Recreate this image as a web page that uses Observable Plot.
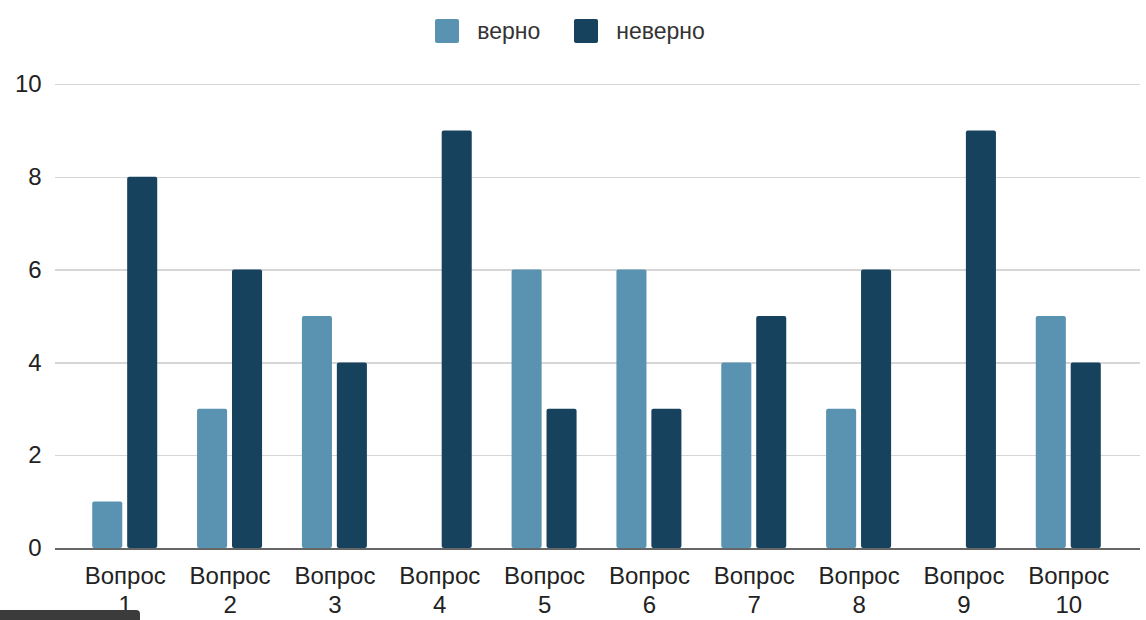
<!DOCTYPE html>
<html><head><meta charset="utf-8">
<script src="https://cdn.jsdelivr.net/npm/d3@7"></script>
<script src="https://cdn.jsdelivr.net/npm/@observablehq/plot@0.6"></script>
<style>
html,body{margin:0;padding:0;background:#fff;font-family:"Liberation Sans",Arial,sans-serif;overflow:hidden;}
#legend{height:62px;display:flex;justify-content:center;align-items:center;font-size:23px;color:#333;padding-right:6px;}
.item{display:flex;align-items:center;margin:0 17px;}
.sw{width:24px;height:24px;border-radius:2px;margin-right:18px;}
#chart svg{display:block;}
#overlay{position:absolute;left:0;top:610px;width:140px;height:10px;background:#3b3b3b;border-top-right-radius:4px;}
</style></head><body>
<div id="legend"></div><div id="chart"></div><div id="overlay"></div>
<script>
const questions = ["Вопрос 1","Вопрос 2","Вопрос 3","Вопрос 4","Вопрос 5","Вопрос 6","Вопрос 7","Вопрос 8","Вопрос 9","Вопрос 10"];
const series = ["верно","неверно"];
const correct = [1,3,5,0,6,6,4,3,0,5];
const incorrect = [8,6,4,9,3,3,5,6,9,4];
const colors = ["#5a93b1","#17425e"];
const yTicks = [0,2,4,6,8,10];

const data = [];
questions.forEach((q,i)=>{
  data.push({q, s: series[0], v: correct[i]});
  data.push({q, s: series[1], v: incorrect[i]});
});

const legend = document.getElementById("legend");
series.forEach((s,i)=>{
  const it = document.createElement("div"); it.className="item";
  const sw = document.createElement("div"); sw.className="sw"; sw.style.background=colors[i];
  const t = document.createElement("span"); t.textContent=s;
  it.appendChild(sw); it.appendChild(t); legend.appendChild(it);
});

const chart = Plot.plot({
  width: 1146,
  height: 558,
  marginTop: 22,
  marginBottom: 72,
  marginLeft: 55,
  marginRight: 8,
  style: {fontFamily: "Liberation Sans, Arial, sans-serif", fontSize: "24px", color: "#222", background: "#fff"},
  fx: {domain: questions, paddingInner: 0.38, paddingOuter: 0.355, round: false, label: null},
  x: {domain: series, paddingInner: 0.14, paddingOuter: 0, round: false, axis: null},
  y: {domain: [0,10], label: null},
  color: {domain: series, range: colors},
  marks: [
    Plot.ruleY(yTicks.filter(d=>d>0), {stroke: "#d6d6d6", strokeWidth: 1.5, insetLeft: -37, insetRight: -39, shapeRendering: "crispEdges"}),
    Plot.axisY(yTicks, {tickSize: 0, tickPadding: 51, fontSize: 24, fill: "#222", label: null}),
    Plot.axisFx({anchor: "bottom", tickSize: 0, tickPadding: 15, fontSize: 24, lineHeight: 1.2, fill: "#222", label: null, tickFormat: d => d.replace(" ", "\n")}),
    Plot.barY(data, {fx: "q", x: "s", y: "v", fill: "s", rx: 2}),
    Plot.ruleY([0], {stroke: "#666", strokeWidth: 2, insetLeft: -37, insetRight: -39, shapeRendering: "crispEdges"})
  ]
});
document.getElementById("chart").appendChild(chart);
</script>
</body></html>
